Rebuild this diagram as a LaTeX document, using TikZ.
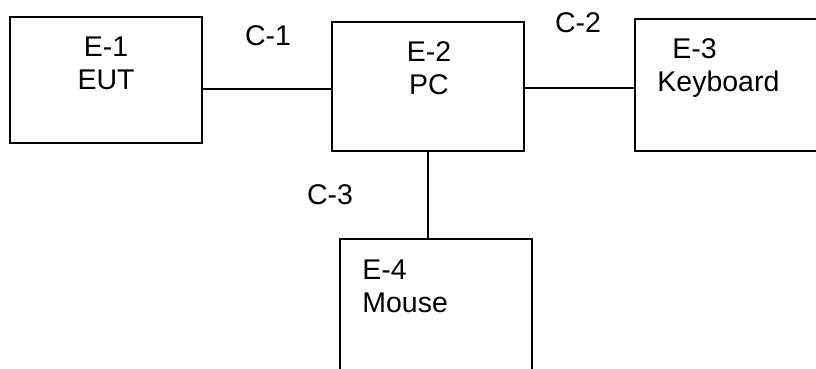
\documentclass[tikz,border=0pt]{standalone}
\usepackage{fontspec}
\setmainfont{Liberation Sans}
\begin{document}
\begin{tikzpicture}[x=0.5pt,y=-0.5pt,
		font=\fontsize{14.25}{16.5}\selectfont,
		every node/.style={inner sep=0pt},
		equip/.style={draw, line width=1pt, outer sep=0pt, minimum width=96pt},
		cable/.style={line width=1pt}]
				\path[use as bounding box, clip] (0,0) rectangle (816,369);
				
				% Equipment boxes
				\node[equip, minimum height=63pt] (eut) at (106,80) {};
				\node[equip, minimum height=64.5pt] (pc) at (428,86.5) {};
				\node[equip, minimum width=100pt, minimum height=66pt] (kbd) at (735,85) {};
				\node[equip, minimum height=100pt] (mouse) at (436,339) {};
				
				% Box texts
				\node[align=center] (eut-txt) at (106,63.5) {E-1\\EUT};
				\node[align=center] (pc-txt) at (429,68.5) {E-2\\PC};
				\node[align=left, anchor=west] (kbd-txt) at (657,68) {\hspace*{7.5pt}E-3\\Keyboard};
				\node[align=left, anchor=west] (mouse-txt) at (362,286) {E-4\\Mouse};
				
				% Cables
				\draw[cable] ([yshift=-4.5pt]eut.east) -- ([yshift=-4.5pt]eut.east -| pc.west);
				\draw[cable] ([yshift=-0.75pt]pc.east) -- ([yshift=-0.75pt]pc.east -| kbd.west);
				\draw[cable] (pc.south) -- (pc.south |- mouse.north);
				
				% Cable labels
				\node (c1) at (268,36) {C-1};
				\node (c2) at (578,23) {C-2};
				\node (c3) at (330,195) {C-3};
			\end{tikzpicture}
\end{document}
